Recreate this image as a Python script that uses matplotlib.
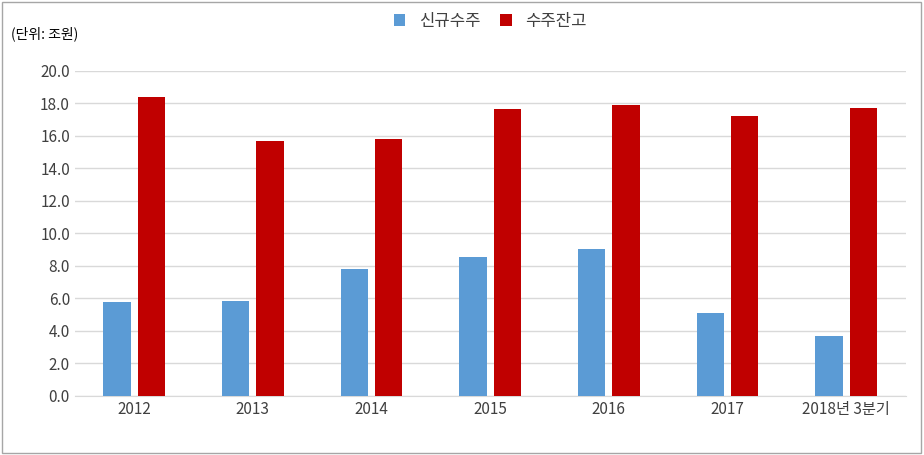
import numpy as np
import matplotlib.pyplot as plt
from matplotlib.patches import Rectangle

plt.rcParams['font.family'] = ['Noto Sans CJK KR', 'DejaVu Sans']

years = ["2012", "2013", "2014", "2015", "2016", "2017", "2018년 3분기"]
new_orders = [5.8, 5.85, 7.8, 8.55, 9.05, 5.1, 3.7]
backlog = [18.4, 15.7, 15.8, 17.65, 17.9, 17.25, 17.75]

fig = plt.figure(figsize=(9.24, 4.55), dpi=100)
ax = fig.add_axes([0.081, 0.130, 0.899, 0.714])

x = np.arange(len(years))
w = 0.23
ax.bar(x - 0.145, new_orders, w, color='#5b9bd5', label='신규수주', zorder=3)
ax.bar(x + 0.145, backlog, w, color='#c00000', label='수주잔고', zorder=3)

ax.set_xlim(-0.5, len(years) - 0.5)
ax.set_ylim(0, 20)
ax.set_yticks(np.arange(0, 20.1, 2))
ax.set_yticklabels([f"{v:.1f}" for v in np.arange(0, 20.1, 2)])
ax.set_xticks(x)
ax.set_xticklabels(years)
ax.tick_params(length=0, labelsize=11, colors='#404040')
ax.grid(axis='y', color='#d9d9d9', linewidth=1, zorder=0)
for s in ['top', 'right', 'left']:
    ax.spines[s].set_visible(False)
ax.spines['bottom'].set_color('#d9d9d9')

fig.text(0.012, 0.915, "(단위: 조원)", fontsize=10, color='#000000')
ax.legend(loc='lower center', bbox_to_anchor=(0.5, 1.08), ncol=2, frameon=False,
          fontsize=12, handlelength=0.7, handleheight=0.7, columnspacing=1.2,
          labelcolor='#404040')

fig.patches.append(Rectangle((0.002, 0.004), 0.995, 0.992, transform=fig.transFigure,
                             fill=False, edgecolor='#a6a6a6', linewidth=1))
fig.savefig('out.png', dpi=100)
